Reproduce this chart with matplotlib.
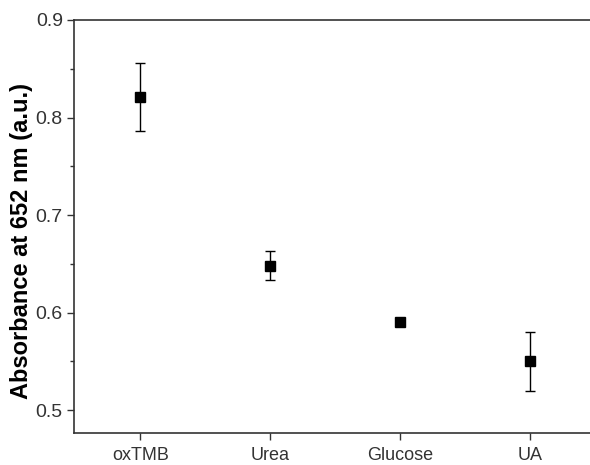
import numpy as np
import matplotlib
matplotlib.use('Agg')
import matplotlib.pyplot as plt
from matplotlib.ticker import MultipleLocator

plt.rcParams['font.family'] = ['Liberation Sans', 'DejaVu Sans']

#### DATA ####
samples = ['oxTMB', 'Urea', 'Glucose', 'UA']
absorbance = [0.821, 0.648, 0.590, 0.550]
errors = [0.035, 0.015, 0.003, 0.030]

x = np.arange(1, len(samples) + 1)

fig = plt.figure(figsize=(5.9, 4.65), dpi=100)
ax = fig.add_axes([0.1254, 0.0688, 0.8746, 0.8882])

ax.errorbar(x, absorbance, yerr=errors, fmt='s', color='black', ms=7.5,
            ecolor='black', elinewidth=1, capsize=3.5, capthick=1)

ax.set_xlim(0.49, 4.46)
ax.set_ylim(0.4765, 0.9)
ax.set_xticks(x)
ax.set_xticklabels(samples, fontsize=13)
ax.yaxis.set_major_locator(MultipleLocator(0.1))
ax.yaxis.set_minor_locator(MultipleLocator(0.05))
ax.yaxis.set_major_formatter(plt.FormatStrFormatter('%.1f'))

ax.spines['right'].set_visible(False)
for s in ['left', 'top', 'bottom']:
    ax.spines[s].set_color('#333333')
    ax.spines[s].set_linewidth(1.2)

ax.tick_params(axis='both', which='major', direction='out', length=5, width=1,
               color='#333333', labelcolor='#333333')
ax.tick_params(axis='y', which='major', labelsize=14, pad=3)
ax.tick_params(axis='x', which='major', pad=5)
ax.tick_params(axis='y', which='minor', direction='out', length=3, width=1, color='#333333')

ax.set_ylabel('Absorbance at 652 nm (a.u.)', fontsize=17, fontweight='bold')
ax.yaxis.set_label_coords(-0.08, 0.465)

fig.savefig('out.png', dpi=100)
